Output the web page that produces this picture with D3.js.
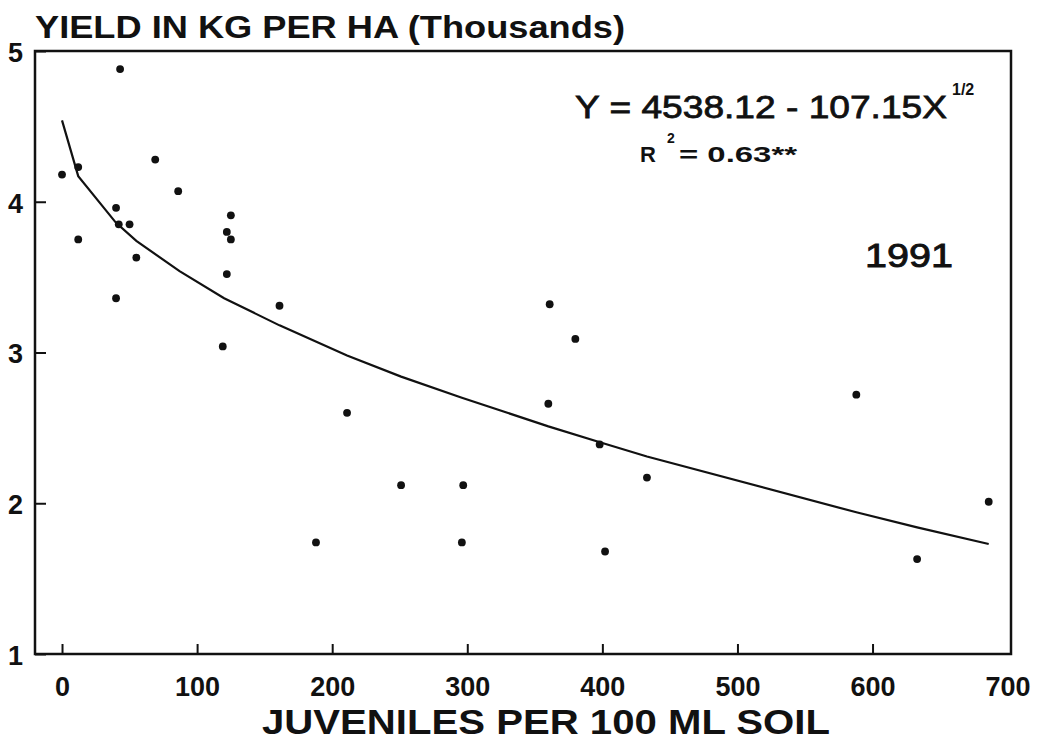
<!DOCTYPE html>
<html>
<head>
<meta charset="utf-8">
<script src="https://cdn.jsdelivr.net/npm/d3@7"></script>
<style>
  body { margin: 0; background: #fff; }
  text { font-family: "Liberation Sans", Arial, sans-serif; fill: #111; }
</style>
</head>
<body>
<div id="chart"></div>
<script>
// juveniles per 100 ml soil (x) and yield in thousands kg/ha (y)
const juveniles = [0, 12, 12, 43, 69, 86, 40, 42, 50, 55, 125, 122, 125, 122, 40, 161, 119,
                   211, 251, 297, 296, 188, 361, 380, 360, 398, 433, 402, 588, 633, 686];
const yieldK = [4.18, 4.23, 3.75, 4.88, 4.28, 4.07, 3.96, 3.85, 3.85, 3.63, 3.91, 3.80, 3.75, 3.52, 3.36, 3.31, 3.04,
                2.60, 2.12, 2.12, 1.74, 1.74, 3.32, 3.09, 2.66, 2.39, 2.17, 1.68, 2.72, 1.63, 2.01];

// fitted curve
const curveX = [0, 12, 40, 55, 87, 120, 161, 211, 251, 296, 360, 400, 433, 588, 633, 686];
const curveY = [4.54, 4.17, 3.86, 3.74, 3.54, 3.36, 3.18, 2.98, 2.84, 2.70, 2.51, 2.40, 2.31, 1.94, 1.84, 1.73];

const xTicks = [0, 100, 200, 300, 400, 500, 600, 700];
const yTicks = [1, 2, 3, 4, 5];

const W = 1049, H = 741;
// edges of the plot frame
const frame = {left: 35, right: 1011, top: 51, bottom: 654};

const svg = d3.select('#chart').append('svg')
    .attr('width', W)
    .attr('height', H);

const x = d3.scaleLinear().domain([-20, 702.5]).range([frame.left, frame.right]);
const y = d3.scaleLinear().domain([1, 5]).range([frame.bottom, frame.top]);

// y axis, ticks pointing inward
const yAxis = svg.append('g')
    .attr('transform', 'translate(' + frame.left + ',0)')
    .call(d3.axisLeft(y).tickValues(yTicks).tickSize(-11).tickPadding(12).tickFormat(d3.format('d')));
yAxis.select('.domain').remove();
yAxis.selectAll('line').attr('stroke', '#111').attr('stroke-width', 2);
yAxis.selectAll('text')
    .attr('font-size', 27).attr('font-weight', 'bold').attr('dy', '0.38em');

// x axis, ticks pointing up
const xAxis = svg.append('g')
    .attr('transform', 'translate(0,' + frame.bottom + ')')
    .call(d3.axisBottom(x).tickValues(xTicks).tickSize(-10).tickPadding(23).tickFormat(d3.format('d')));
xAxis.select('.domain').remove();
xAxis.selectAll('line').attr('stroke', '#111').attr('stroke-width', 2)
    .attr('opacity', d => d === 700 ? 0 : 1);
xAxis.selectAll('text')
    .attr('font-size', 27).attr('font-weight', 'bold');

// frame
svg.append('rect')
    .attr('x', frame.left).attr('y', frame.top)
    .attr('width', frame.right - frame.left).attr('height', frame.bottom - frame.top)
    .attr('fill', 'none').attr('stroke', '#111').attr('stroke-width', 2.5);

// fitted curve
const line = d3.line()
    .x((d, i) => x(curveX[i]))
    .y(d => y(d));
svg.append('path')
    .datum(curveY)
    .attr('d', line)
    .attr('fill', 'none')
    .attr('stroke', '#111')
    .attr('stroke-width', 2.2);

// observations
svg.selectAll('.dot')
    .data(juveniles)
  .enter().append('circle')
    .attr('class', 'dot')
    .attr('cx', d => x(d))
    .attr('cy', (d, i) => y(yieldK[i]))
    .attr('r', 3.9)
    .attr('fill', '#111');

// titles
svg.append('text')
    .attr('x', 35).attr('y', 38)
    .attr('font-size', 32).attr('font-weight', 'bold')
    .attr('textLength', 590).attr('lengthAdjust', 'spacingAndGlyphs')
    .text('YIELD IN KG PER HA (Thousands)');

svg.append('text')
    .attr('x', 262).attr('y', 734)
    .attr('font-size', 35).attr('font-weight', 'bold')
    .attr('textLength', 568).attr('lengthAdjust', 'spacingAndGlyphs')
    .text('JUVENILES PER 100 ML SOIL');

// equation (regular face with a thin stroke, a bit heavier than plain)
svg.append('text')
    .attr('x', 575).attr('y', 118)
    .attr('font-size', 32)
    .attr('stroke', '#111').attr('stroke-width', 0.8)
    .attr('textLength', 372).attr('lengthAdjust', 'spacingAndGlyphs')
    .text('Y = 4538.12 - 107.15X');
svg.append('text')
    .attr('x', 952).attr('y', 95)
    .attr('font-size', 16).attr('font-weight', 'bold')
    .text('1/2');

svg.append('text')
    .attr('x', 640).attr('y', 162)
    .attr('font-size', 22).attr('font-weight', 'bold')
    .text('R');
svg.append('text')
    .attr('x', 667).attr('y', 143)
    .attr('font-size', 14).attr('font-weight', 'bold')
    .text('2');
svg.append('text')
    .attr('x', 679).attr('y', 162)
    .attr('font-size', 22).attr('font-weight', 'bold')
    .attr('textLength', 118).attr('lengthAdjust', 'spacingAndGlyphs')
    .text('= 0.63**');

svg.append('text')
    .attr('x', 865).attr('y', 267)
    .attr('font-size', 34)
    .attr('stroke', '#111').attr('stroke-width', 0.9)
    .attr('textLength', 88).attr('lengthAdjust', 'spacingAndGlyphs')
    .text('1991');
</script>
</body>
</html>
